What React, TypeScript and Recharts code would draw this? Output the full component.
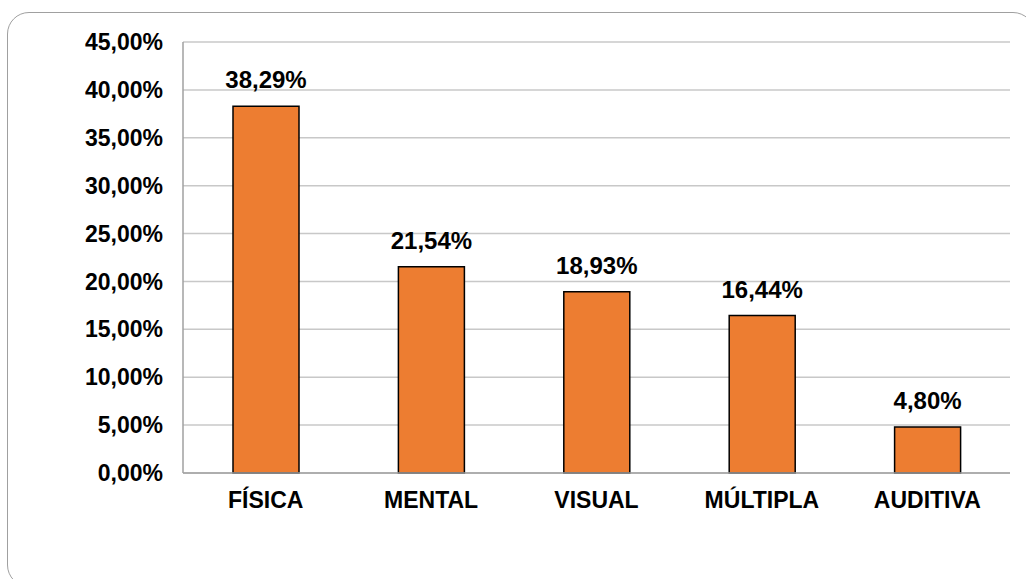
import React from "react";
import {
  BarChart,
  Bar,
  XAxis,
  YAxis,
  CartesianGrid,
  LabelList,
} from "recharts";

const categories = ["FÍSICA", "MENTAL", "VISUAL", "MÚLTIPLA", "AUDITIVA"];
const values = [38.29, 21.54, 18.93, 16.44, 4.8];
const yTicks = [0, 5, 10, 15, 20, 25, 30, 35, 40, 45];

const data = categories.map((name, i) => ({ name, value: values[i] }));

const fmt = (v: number) => v.toFixed(2).replace(".", ",") + "%";

const font = "'Liberation Sans', Arial, sans-serif";

const App = () => {
  return (
    <div
      style={{
        position: "absolute",
        left: 0,
        top: 0,
        width: 1026,
        height: 579,
        overflow: "hidden",
        background: "#fff",
      }}
    >
      <div
        style={{
          position: "absolute",
          left: 7,
          top: 12,
          width: 1028,
          height: 575,
          border: "1.5px solid #a0a0a0",
          borderRadius: 22,
          boxSizing: "border-box",
        }}
      />
      <div style={{ position: "absolute", left: 0, top: 0 }}>
        <BarChart
          width={1026}
          height={579}
          data={data}
          margin={{ top: 42, right: 16, bottom: 66, left: 0 }}
          barSize={66}
        >
          <CartesianGrid vertical={false} stroke="#c8c8c8" strokeWidth={1.5} />
          <XAxis
            dataKey="name"
            height={40}
            axisLine={{ stroke: "#a0a0a0", strokeWidth: 1.5 }}
            tickLine={false}
            tick={{
              fill: "#000",
              fontSize: 23,
              fontWeight: "bold",
              fontFamily: font,
            }}
            tickMargin={13}
          />
          <YAxis
            width={183}
            domain={[0, 45]}
            ticks={yTicks}
            tickFormatter={fmt}
            axisLine={{ stroke: "#a0a0a0", strokeWidth: 1.5 }}
            tickLine={false}
            tickMargin={14}
            tick={{
              fill: "#000",
              fontSize: 23,
              fontWeight: "bold",
              fontFamily: font,
            }}
          />
          <Bar
            dataKey="value"
            fill="#ED7D31"
            stroke="#000"
            strokeWidth={1.5}
            isAnimationActive={false}
          >
            <LabelList
              dataKey="value"
              position="top"
              offset={18}
              formatter={(v: any) => fmt(Number(v))}
              style={{
                fill: "#000",
                fontSize: 24,
                fontWeight: "bold",
                fontFamily: font,
              }}
            />
          </Bar>
        </BarChart>
      </div>
    </div>
  );
};

export default App;
